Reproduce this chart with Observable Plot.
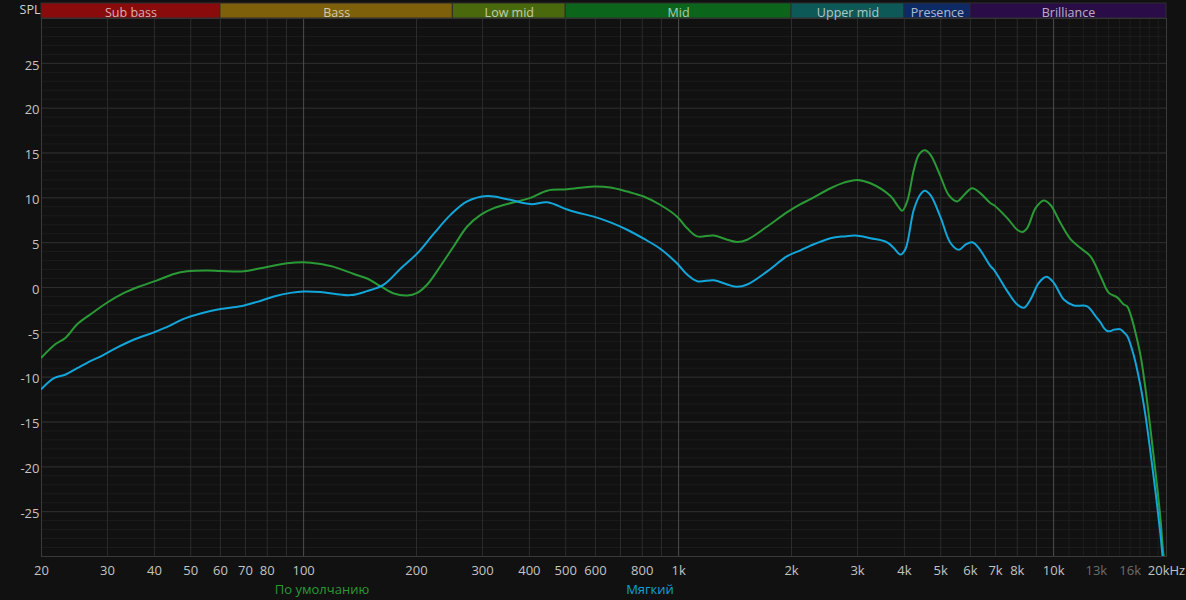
<!DOCTYPE html>
<html><head><meta charset="utf-8">
<script src="https://cdn.jsdelivr.net/npm/d3@7"></script>
<script src="https://cdn.jsdelivr.net/npm/@observablehq/plot@0.6"></script>
<style>
html,body{margin:0;padding:0;background:#111111;}
#wrap{position:relative;width:1186px;height:600px;background:#111111;font-family:"Open Sans","Noto Sans",sans-serif;overflow:hidden}
#wrap svg{position:absolute;left:0;top:0;overflow:visible;}
.lbl{position:absolute;font-size:13px;transform:translate(-50%,-50%);white-space:nowrap;line-height:1.2}
</style></head><body><div id="wrap"></div>
<script>
// ---- Data ----
const greenName = "По умолчанию";
const blueName = "Мягкий";
const greenFreq = [20,21.8,23.2,24.9,27,29.9,33.2,36.7,40.7,45.1,48.9,55.3,60,69.3,76.7,90.4,102,108.7,120.4,136.1,147.7,160.3,174,188.9,200.9,213.6,231.8,251.4,273,296.4,321.6,363.6,402.8,446.4,504.6,594,658,729,807,895,991,1054,1121,1241,1348,1433,1524,1723,1948,2114,2248,2541,2758,2994,3248,3673,3827,3946,4069,4238,4370,4534,4696,4992,5254,5532,5761,6067,6383,6788,6926,7522,7998,8248,8504,8950,9418,9812,10430,11092,11796,12542,13336,14034,14776,15388,15714,16036,16364,17052,17580,18128,18696,19276,19600,20000];
const greenSpl = [-7.8,-6.3,-5.6,-4.1,-3.0,-1.7,-0.6,0.15,0.8,1.5,1.8,1.9,1.85,1.8,2.15,2.7,2.8,2.67,2.3,1.5,1.0,0.15,-0.67,-0.9,-0.6,0.33,2.4,4.6,6.8,8.1,8.85,9.5,10.0,10.8,10.95,11.26,11.15,10.7,10.15,9.2,7.9,6.6,5.7,5.8,5.33,5.07,5.33,6.8,8.4,9.3,9.85,11.07,11.7,12.0,11.63,10.2,9.2,8.56,9.6,13.1,14.8,15.3,14.8,12.4,10.3,9.6,10.3,11.07,10.5,9.4,9.2,7.74,6.44,6.19,6.63,8.85,9.7,9.2,7.2,5.4,4.4,3.48,1.26,-0.6,-1.1,-1.9,-2.1,-3.0,-4.3,-7.6,-11.3,-15.8,-20.6,-25.8,-29.5,-32];
const blueFreq = [20,21.6,23.2,24.9,27,28.7,31.8,35.3,39.9,43.3,47.9,53.1,60,67.9,75.2,83.3,92.3,100,110.9,133.4,147.7,163.6,181.3,200.9,222.4,246.4,273,308.8,349.2,402.8,446.4,504.6,536.6,594,658,729,807,895,991,1054,1121,1241,1348,1433,1524,1723,1948,2114,2248,2541,2758,2994,3248,3598,3748,3906,4027,4238,4416,4534,4696,4992,5309,5586,5821,6067,6317,6788,6926,7522,7998,8330,8678,9133,9572,10012,10644,11320,12290,12934,13336,13610,13898,14182,14472,14776,15080,15388,15714,16364,17052,17580,18128,18696,19276,19514,20000];
const blueSpl = [-11.3,-10.1,-9.7,-9.0,-8.2,-7.7,-6.7,-5.8,-5.0,-4.4,-3.5,-2.9,-2.4,-2.1,-1.6,-1.0,-0.6,-0.45,-0.5,-0.85,-0.4,0.33,2.1,3.8,6.0,8.1,9.6,10.2,9.85,9.3,9.5,8.7,8.37,7.9,7.26,6.44,5.44,4.3,2.67,1.44,0.7,0.81,0.33,0.07,0.33,1.8,3.5,4.15,4.67,5.5,5.7,5.78,5.5,5.04,4.4,3.67,4.3,8.67,10.4,10.8,10.3,7.85,4.96,4.2,4.78,5.04,4.4,2.37,2.0,-0.4,-1.9,-2.26,-1.33,0.52,1.19,0.52,-1.33,-2.0,-2.1,-3.2,-3.9,-4.5,-4.85,-4.85,-4.7,-4.65,-4.67,-5.0,-5.4,-7.6,-11.0,-14.3,-18.4,-22.8,-27.6,-29.9,-34];

const bandNames = ["Sub bass","Bass","Low mid","Mid","Upper mid","Presence","Brilliance"];
const bandStart = [20,60,250,500,2000,4000,6000];
const bandEnd   = [60,250,500,2000,4000,6000,20000];
const bandColors = ["#8a0b0c","#7d6009","#4a690c","#0b661b","#0c5957","#0e2a66","#2a0d48"];

const xTickFreq = [20,30,40,50,60,70,80,100,200,300,400,500,600,800,1000,2000,3000,4000,5000,6000,7000,8000,10000,13000,16000,20000];
const xTickLabel = ["20","30","40","50","60","70","80","100","200","300","400","500","600","800","1k","2k","3k","4k","5k","6k","7k","8k","10k","13k","16k","20kHz"];
const xTickDim = ["13k","16k"];
const yTickValues = [-25,-20,-15,-10,-5,0,5,10,15,20,25];

const xGridMinor = [30,40,50,60,70,80,90,200,300,400,500,600,700,800,900,2000,3000,4000,5000,6000,7000,8000,9000];
const xGridFine = [11000,12000,13000,14000,15000,16000,17000,18000,19000];
const xGridMajor = [100,1000,10000];
const yGridMinor = d3.range(-29,30);
const yGridMajor = d3.range(-25,30,5);

// ---- Build ----
const greenData = greenFreq.map((f,i)=>({f, v: greenSpl[i]}));
const blueData = blueFreq.map((f,i)=>({f, v: blueSpl[i]}));
const bands = bandNames.map((name,i)=>({name, start: bandStart[i], end: bandEnd[i], color: bandColors[i]}));
const xTicks = xTickFreq.map((f,i)=>({f, label: xTickLabel[i], color: xTickDim.includes(xTickLabel[i]) ? "#6e6e6e" : "#c4c4c4"}));

const FONT = '"Open Sans","Noto Sans",sans-serif';
const W = 1186, H = 600;
const ML = 41, MR = 20;

const main = Plot.plot({
  width: W, height: H,
  marginTop: 18, marginBottom: 44, marginLeft: ML, marginRight: MR,
  style: {background: "transparent", fontFamily: FONT, fontSize: "13px"},
  x: {type: "log", domain: [20, 20000], axis: null},
  y: {domain: [-30, 30], axis: null},
  color: {type: "identity"},
  marks: [
    Plot.ruleY(yGridMinor, {stroke: "#1c1c1c"}),
    Plot.ruleY(yGridMajor, {stroke: "#2e2e2e"}),
    Plot.ruleX(xGridFine, {stroke: "#1e1e1e"}),
    Plot.ruleX(xGridMinor, {stroke: "#2c2c2c"}),
    Plot.ruleX(xGridMajor, {stroke: "#4e4e4e"}),
    Plot.frame({stroke: "#3a3a3a"}),
    Plot.line(greenData, {x: "f", y: "v", stroke: "#2a9a36", strokeWidth: 2, curve: "catmull-rom", clip: true}),
    Plot.line(blueData, {x: "f", y: "v", stroke: "#12a6da", strokeWidth: 2, curve: "catmull-rom", clip: true}),
    Plot.text(xTicks, {x: "f", text: "label", fill: "color", frameAnchor: "bottom", dy: 18, fontSize: 13}),
    Plot.text(yTickValues, {y: d => d, text: d => String(d), frameAnchor: "left", textAnchor: "end", dx: -2, dy: 2, fill: "#c4c4c4", fontSize: 13})
  ]
});

const bandPlot = Plot.plot({
  width: W, height: 26,
  marginTop: 3, marginBottom: 8, marginLeft: ML, marginRight: MR,
  style: {background: "transparent", fontFamily: FONT, fontSize: "12.5px"},
  x: {type: "log", domain: [20, 20000], axis: null},
  y: {domain: [0, 1], axis: null},
  color: {type: "identity"},
  marks: [
    Plot.rect(bands, {x1: "start", x2: "end", y1: 0, y2: 1, fill: "color", stroke: "#2e2e2e", strokeWidth: 1}),
    Plot.text(bands, {x: d => Math.sqrt(d.start * d.end), y: 0.5, dy: 1.5, text: "name", fill: "#ffffff", fillOpacity: 0.68, fontSize: 12.5})
  ]
});

const wrap = document.getElementById("wrap");
wrap.appendChild(main);
wrap.appendChild(bandPlot);

function label(text, left, top, color, size) {
  const s = document.createElement("div");
  s.className = "lbl";
  s.textContent = text;
  s.style.left = left + "px";
  s.style.top = top + "px";
  s.style.color = color;
  if (size) s.style.fontSize = size + "px";
  wrap.appendChild(s);
}
label("SPL", 30, 9, "#d0d0d0", 12.5);
label(greenName, 322, 590, "#2a9a36", 13);
label(blueName, 650, 590, "#12a0d4", 13);
</script></body></html>
